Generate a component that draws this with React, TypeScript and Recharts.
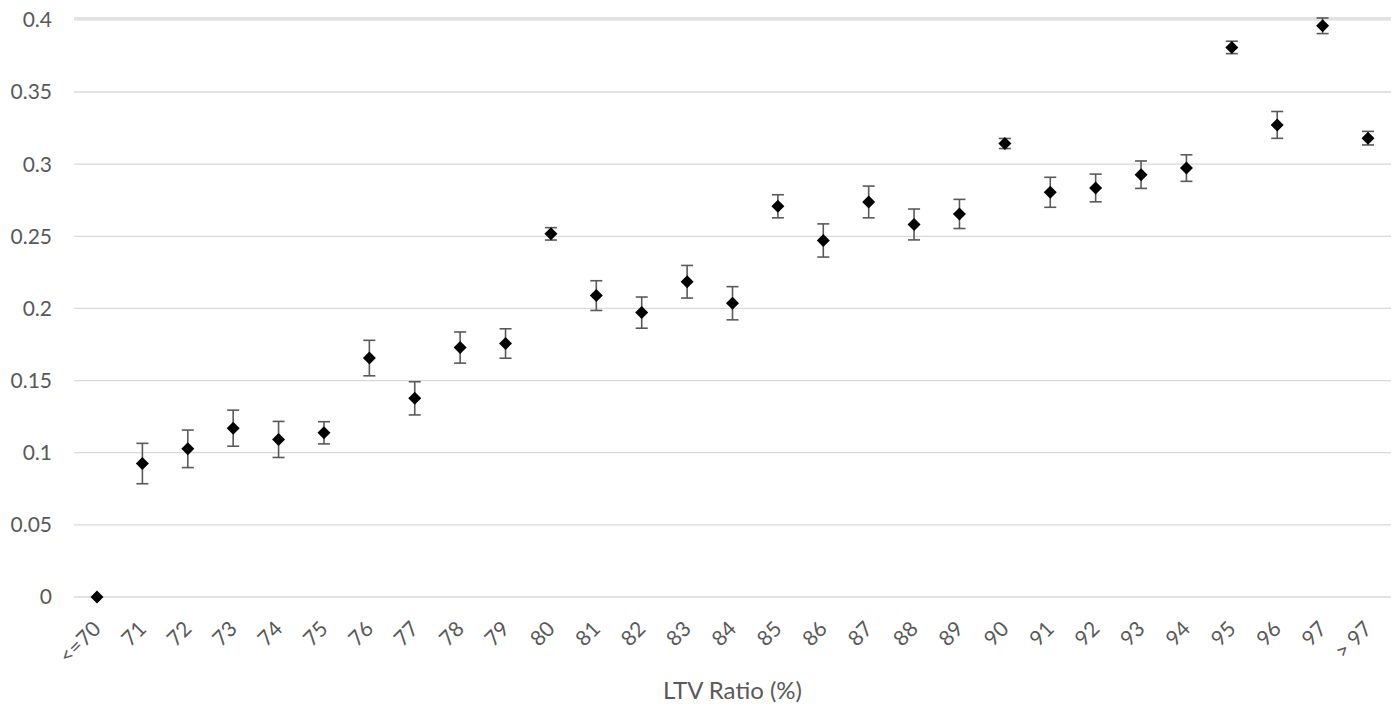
import { ComposedChart, Line, ErrorBar, XAxis, YAxis, CartesianGrid } from "recharts";

const categories = [
  "<=70", "71", "72", "73", "74", "75", "76", "77", "78", "79", "80",
  "81", "82", "83", "84", "85", "86", "87", "88", "89", "90",
  "91", "92", "93", "94", "95", "96", "97", "> 97",
];

const values = [
  0, 0.0925, 0.1027, 0.117, 0.1092, 0.1138, 0.1656, 0.1377, 0.1729, 0.1757, 0.2517,
  0.2089, 0.1971, 0.2185, 0.2036, 0.2708, 0.2471, 0.2738, 0.2582, 0.2655, 0.3143,
  0.2805, 0.2835, 0.2927, 0.2973, 0.3809, 0.3272, 0.3959, 0.318,
];

const errors = [
  0, 0.014, 0.013, 0.0125, 0.0125, 0.0077, 0.0123, 0.0115, 0.0108, 0.0102, 0.0043,
  0.0103, 0.0108, 0.0113, 0.0115, 0.008, 0.0115, 0.011, 0.0107, 0.0101, 0.0035,
  0.0104, 0.0096, 0.0095, 0.0092, 0.0043, 0.0093, 0.0054, 0.0047,
];

const yTicks = [0, 0.05, 0.1, 0.15, 0.2, 0.25, 0.3, 0.35, 0.4];

const data = categories.map((c, i) => ({ ltv: c, value: values[i], err: errors[i] }));

const FONT = "Lato, 'Liberation Sans', sans-serif";
const TEXT = "#595959";

function XTick({ x, y, payload }: any) {
  return (
    <g transform={`translate(${x},${y})`}>
      <text x={0} y={0} dy="0.35em" textAnchor="end" transform="rotate(-45)" fill={TEXT} fontSize={21} fontFamily={FONT}>
        {payload.value}
      </text>
    </g>
  );
}

function Diamond({ cx, cy }: any) {
  if (cx == null || cy == null) return null;
  const r = 6.5;
  return <polygon points={`${cx},${cy - r} ${cx + r},${cy} ${cx},${cy + r} ${cx - r},${cy}`} fill="#000" />;
}

export default function App() {
  return (
    <div style={{ position: "absolute", left: 0, top: 0, background: "#fff" }}>
      <ComposedChart width={1399} height={708} data={data} margin={{ top: 18, right: 8, left: 0, bottom: 0 }}>
        <CartesianGrid vertical={false} stroke="#d9d9d9" strokeWidth={1.3} />
        <XAxis
          dataKey="ltv"
          interval={0}
          axisLine={false}
          tickLine={false}
          tickMargin={22}
          height={111}
          padding={{ left: 23, right: 23 }}
          tick={<XTick />}
          label={{ value: "LTV Ratio (%)", position: "insideBottom", offset: 9, fill: TEXT, fontSize: 24, fontFamily: FONT }}
        />
        <YAxis
          domain={[0, 0.4]}
          ticks={yTicks}
          width={74}
          axisLine={false}
          tickLine={false}
          tickMargin={16}
          tick={{ fill: TEXT, fontSize: 21, fontFamily: FONT }}
        />
        <Line dataKey="value" stroke="none" dot={<Diamond />} activeDot={false} isAnimationActive={false}>
          <ErrorBar dataKey="err" width={6} stroke="#595959" strokeWidth={1.6} direction="y" />
        </Line>
      </ComposedChart>
    </div>
  );
}
